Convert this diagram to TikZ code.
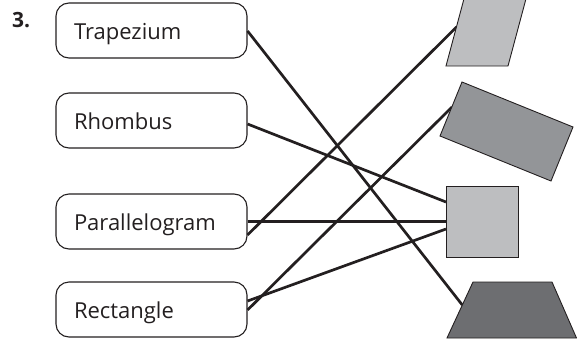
\documentclass[tikz,border=0pt]{standalone}
\usepackage{fontspec}
\setmainfont{Open Sans}
\definecolor{ink}{RGB}{35,31,32}
\definecolor{paleshape}{RGB}{189,190,192}
\definecolor{midshape}{RGB}{147,149,152}
\definecolor{darkshape}{RGB}{109,110,113}
\begin{document}
\begin{tikzpicture}[x=1pt,y=-1pt,
  namebox/.style={draw=ink, line width=1.1pt, rounded corners=13pt,
    minimum height=55pt, inner xsep=18pt, inner ysep=0pt,
    text width=155pt, align=left, text height=17.6pt, text depth=0pt,
    font=\fontsize{22}{26}\selectfont, text=ink},
  link/.style={draw=ink, line width=2.7pt},
  shapeedge/.style={draw=ink, line width=0.9pt, line join=miter}]
\useasboundingbox (0,0) rectangle (577,340);

% question number
\node[font=\bfseries\fontsize{21}{24}\selectfont, text=ink, anchor=base west, inner sep=0pt] (qnum) at (12,27.5) {3.};

% name boxes
\node[namebox] (trap) at (151.5,30.5) {Trapezium};
\node[namebox] (rhom) at (151.5,120.5) {Rhombus};
\node[namebox] (para) at (151.5,221.5) {Parallelogram};
\node[namebox] (rect) at (151.5,309.5) {Rectangle};

% end points of the connectors on the shapes
\coordinate (paraend) at (456.5,27);
\coordinate (rotend) at (452,107);
\coordinate (sqA) at (446,202);
\coordinate (sqC) at (446,229);
\coordinate (trapend) at (462.3,305);

% connectors
\draw[link] ([yshift=-0.5pt]trap.east) -- (trapend);
\draw[link] ([yshift=-3.5pt]rhom.east) -- (sqA);
\draw[link] ([yshift=-13.5pt]para.east) -- (paraend);
\draw[link] (para.east) -- (446,221.5);
\draw[link] ([yshift=-0.5pt]rect.east) -- (rotend);
\draw[link] ([yshift=8.5pt]rect.east) -- (sqC);

% shapes
\begin{scope}
  \clip (0,0) rectangle (577,340);
  \filldraw[shapeedge, fill=paleshape] (446,66) -- (508,66) -- (531,-20) -- (469,-20) -- cycle;
\end{scope}
\filldraw[shapeedge, fill=midshape] (462,82) -- (573,127) -- (551,181) -- (440,136) -- cycle;
\node[shapeedge, fill=paleshape, minimum width=72pt, minimum height=71pt, inner sep=0pt] (square) at (482,221.5) {};
\filldraw[shapeedge, fill=darkshape] (473,282) -- (552,282) -- (576.5,338) -- (447,338) -- cycle;
\end{tikzpicture}
\end{document}
